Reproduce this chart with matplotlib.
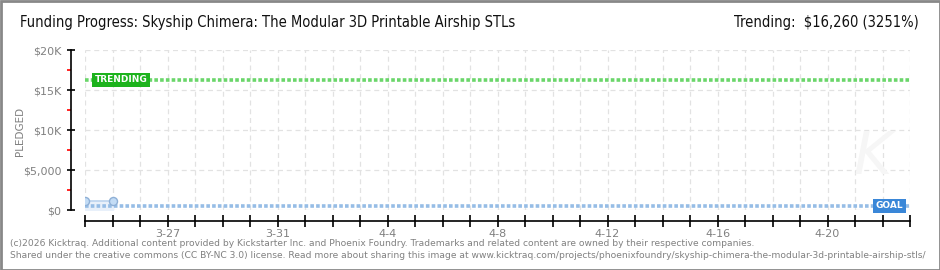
import datetime as dt

import matplotlib
matplotlib.use("Agg")
import matplotlib.dates as mdates
import matplotlib.pyplot as plt
from matplotlib import font_manager
from matplotlib.patches import Rectangle

# data
pledge_dates = [dt.date(2026, 3, 24), dt.date(2026, 3, 25)]
pledged = [1080, 1080]
goal = 500
trending = 16260
trending_pct = 3251
x_start = dt.date(2026, 3, 24)
x_end = dt.date(2026, 4, 23)
y_ticks = [0, 5000, 10000, 15000, 20000]
y_labels = ["$0", "$5,000", "$10K", "$15K", "$20K"]
y_minor = [2500, 7500, 12500, 17500]

title = "Funding Progress: Skyship Chimera: The Modular 3D Printable Airship STLs"
footer = [
    "(c)2026 Kicktraq. Additional content provided by Kickstarter Inc. and Phoenix Foundry. "
    "Trademarks and related content are owned by their respective companies.",
    "Shared under the creative commons (CC BY-NC 3.0) license. Read more about sharing this image at "
    "www.kicktraq.com/projects/phoenixfoundry/skyship-chimera-the-modular-3d-printable-airship-stls/",
]

W, H = 940, 270
fig = plt.figure(figsize=(W / 100, H / 100), dpi=100)
fig.patch.set_facecolor("white")

# grey frame round the image
fig.add_artist(Rectangle((0.5 / W, 0.5 / H), 1 - 1 / W, 1 - 1 / H, transform=fig.transFigure,
                         fill=False, edgecolor="#888888", linewidth=2))

ax = fig.add_axes([85 / W, 1 - 210 / H, 825 / W, 160 / H])
ax.set_xlim(mdates.date2num(x_start), mdates.date2num(x_end))
ax.set_ylim(0, 20000)

grid_kw = dict(color="#e2e2e2", linestyle=(0, (4, 3)), linewidth=0.9, zorder=0)
day = x_start
while day <= x_end:
    ax.axvline(mdates.date2num(day), **grid_kw)
    day += dt.timedelta(days=1)
for yv in y_ticks:
    ax.axhline(yv, **grid_kw)

# faint watermark
ax.text(0.955, 0.33, "K", transform=ax.transAxes, fontsize=42, fontstyle="italic",
        color="#f6f6f6", ha="center", va="center", zorder=0)

# goal and trending lines
ax.axhline(trending, color="#6ad66a", linestyle=(0, (1, 0.6)), linewidth=2.6, zorder=2)
ax.axhline(goal, color="#96bde6", linestyle=(0, (1, 0.6)), linewidth=2.6, zorder=2)

# pledged series
xs = mdates.date2num(pledge_dates)
ax.fill_between(xs, 0, pledged, color="#e8f0fa", zorder=1)
ax.plot(xs, pledged, color="#bcd4ee", linewidth=1.2, zorder=3)
ax.plot(xs, pledged, "o", markersize=5.8, markerfacecolor="#c3dcf5",
        markeredgecolor="#8fb0d6", markeredgewidth=1, zorder=4)

# labels on the lines
ax.text(mdates.date2num(dt.date(2026, 3, 24)) + 0.35, trending, "TRENDING", color="white",
        fontsize=6.5, fontweight="bold", va="center", ha="left", zorder=5,
        bbox=dict(boxstyle="square,pad=0.3", facecolor="#1db31d", edgecolor="none"))
ax.text(mdates.date2num(x_end) - 0.25, goal, "GOAL", color="white",
        fontsize=6.5, fontweight="bold", va="center", ha="right", zorder=5,
        bbox=dict(boxstyle="square,pad=0.3", facecolor="#3a87d8", edgecolor="none"))

# axes styling
for side in ("top", "right"):
    ax.spines[side].set_visible(False)
ax.spines["left"].set_position(("outward", 10))
ax.spines["bottom"].set_position(("outward", 8))
ax.spines["left"].set_linewidth(1.2)
ax.spines["bottom"].set_linewidth(1.2)

ax.set_yticks(y_ticks)
ax.set_yticklabels(y_labels)
ax.set_yticks(y_minor, minor=True)
ax.tick_params(axis="y", which="major", direction="inout", length=6, width=1.2,
               colors="black", labelcolor="#808080", labelsize=8, pad=4)
ax.tick_params(axis="y", which="minor", direction="out", length=3, width=1.2, colors="#ff0000")

ax.xaxis.set_major_locator(mdates.DayLocator(bymonthday=[27, 31, 4, 8, 12, 16, 20]))
ax.xaxis.set_minor_locator(mdates.DayLocator())
ax.xaxis.set_major_formatter(mdates.DateFormatter("%-m-%-d"))
ax.tick_params(axis="x", which="both", direction="inout", length=8, width=1.2,
               colors="black", labelcolor="#808080", labelsize=8, pad=2)

fig.text(20 / W, 1 - 131 / H, "PLEDGED", rotation=90, color="#808080", fontsize=7.5,
         ha="center", va="center")

head = font_manager.FontProperties(family="DejaVu Sans", stretch="condensed", size=10.5)
fig.text(20 / W, 1 - 22 / H, title, fontproperties=head, color="#111111",
         ha="left", va="center")
fig.text(919 / W, 1 - 22 / H, f"Trending:  ${trending:,} ({trending_pct}%)",
         fontproperties=head, color="#111111", ha="right", va="center")

fig.text(10 / W, 1 - 243 / H, footer[0], fontsize=6.6, color="#808080", ha="left", va="center")
fig.text(10 / W, 1 - 256 / H, footer[1], fontsize=6.6, color="#808080", ha="left", va="center")

fig.savefig("out.png", dpi=100)
